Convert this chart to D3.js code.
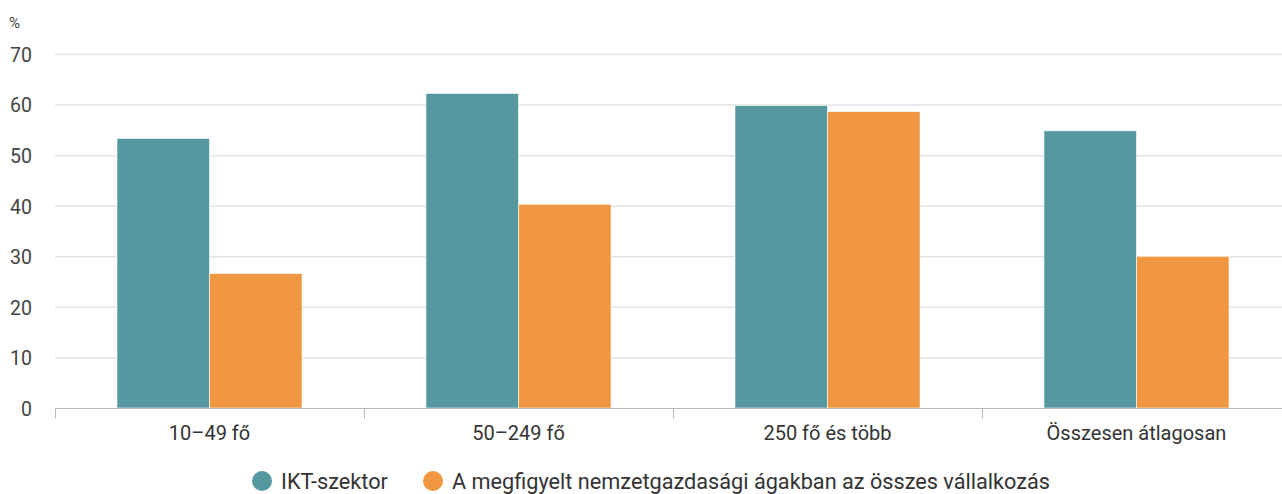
<!DOCTYPE html>
<html><head><meta charset="utf-8">
<script src="https://cdn.jsdelivr.net/npm/d3@7"></script>
<style>body{margin:0;background:#fff;font-family:Roboto,"Noto Sans",sans-serif;}</style>
</head><body><svg id="c" width="1282" height="494"></svg>
<script>
const categories = ["10–49 fő", "50–249 fő", "250 fő és több", "Összesen átlagosan"];
const seriesNames = ["IKT-szektor", "A megfigyelt nemzetgazdasági ágakban az összes vállalkozás"];
const iktValues = [53.3, 62.2, 59.8, 54.8];
const allValues = [26.6, 40.3, 58.6, 30.0];
const yTicks = [0, 10, 20, 30, 40, 50, 60, 70];
const colors = ["#5598a0", "#f29741"];

const svg = d3.select("#c");
const m = {l: 55, r: 1291, t: 54, b: 408};
const x = d3.scaleBand().domain(categories).range([m.l, m.r]).paddingInner(0).paddingOuter(0);
const x1 = d3.scaleBand().domain([0,1]).range([0, x.bandwidth()]).paddingInner(0).paddingOuter(0.67);
const y = d3.scaleLinear().domain([0, 70]).range([m.b, m.t]);

// grid
svg.append("g").selectAll("line").data(yTicks.filter(d=>d>0)).join("line")
  .attr("x1", m.l).attr("x2", m.r).attr("y1", d=>y(d)+0.5).attr("y2", d=>y(d)+0.5)
  .attr("stroke", "#e3e3e3").attr("stroke-width", 1.5);

// y labels
svg.append("g").selectAll("text").data(yTicks).join("text")
  .attr("x", 32).attr("y", d=>y(d)+1).attr("dy", "0.35em").attr("text-anchor", "end")
  .attr("font-size", 19.5).attr("fill", "#444").text(d=>d);
svg.append("text").attr("x", 9).attr("y", 28).attr("font-size", 15).attr("fill", "#444").text("%");

// bars
const data = categories.map((c,i)=>({c, v:[iktValues[i], allValues[i]]}));
const g = svg.append("g").selectAll("g").data(data).join("g").attr("transform", d=>`translate(${x(d.c)},0)`);
g.selectAll("rect").data(d=>d.v.map((v,k)=>({v,k}))).join("rect")
  .attr("x", d=>x1(d.k)).attr("width", x1.bandwidth())
  .attr("y", d=>y(d.v)).attr("height", d=>y(0)-y(d.v))
  .attr("fill", d=>colors[d.k]).attr("stroke", "#fff").attr("stroke-width", 0.6);

// x axis
const xa = svg.append("g").attr("transform", `translate(0,${m.b+0.5})`);
xa.append("line").attr("x1", m.l).attr("x2", m.r).attr("stroke", "#bbb").attr("stroke-width", 1);
const bounds = categories.map(c=>x(c)).concat([m.r]);
xa.selectAll("line.t").data(bounds).join("line").attr("class","t")
  .attr("x1", d=>d+0.5).attr("x2", d=>d+0.5).attr("y1", 0).attr("y2", 10).attr("stroke", "#bbb");
xa.selectAll("text").data(categories).join("text")
  .attr("x", d=>x(d)+x.bandwidth()/2).attr("y", 24).attr("dy", "0.35em").attr("text-anchor", "middle")
  .attr("font-size", 20).attr("fill", "#333").text(d=>d);

// legend
const leg = svg.append("g");
const lx = [262, 433];
seriesNames.forEach((n,i)=>{
  leg.append("circle").attr("cx", lx[i]).attr("cy", 481).attr("r", 10).attr("fill", colors[i]);
  leg.append("text").attr("x", lx[i]+19).attr("y", 481).attr("dy", "0.35em")
    .attr("font-size", 21.7).attr("fill", "#333").text(n);
});
</script></body></html>
